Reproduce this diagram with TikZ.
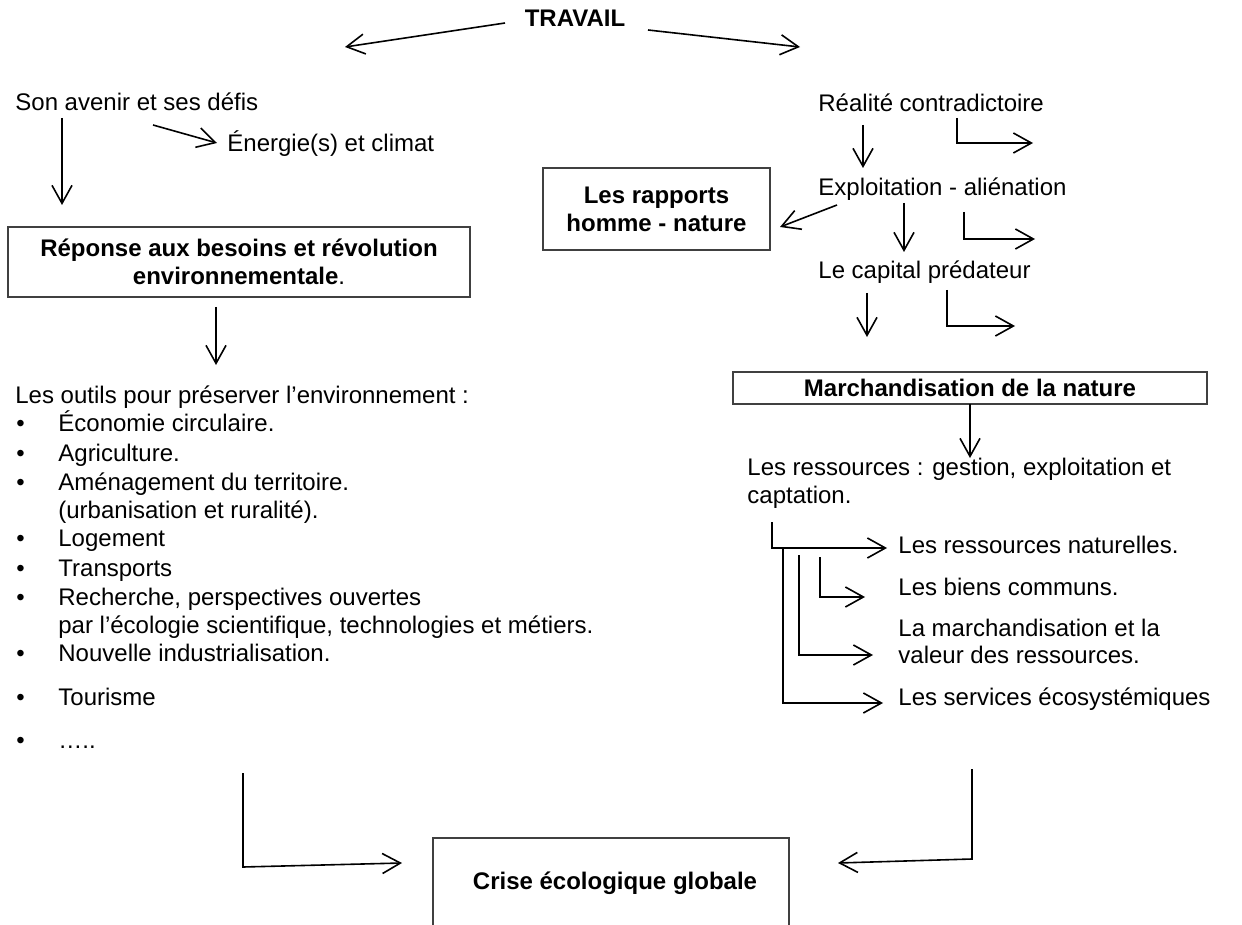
\documentclass[tikz,border=0pt]{standalone}
\usepackage{fontspec}
\setmainfont{Liberation Sans}
\usetikzlibrary{arrows.meta}
\begin{document}
\begin{tikzpicture}[x=0.5pt,y=-0.5pt,
  every node/.style={inner sep=0pt, font=\fontsize{12}{14}\selectfont},
  lbl/.style={anchor=west, text height=8.6pt, text depth=0pt},
  bold/.style={font=\fontsize{12}{14}\selectfont\bfseries},
  boxed/.style={draw=black!75, line width=0.7pt, align=center, font=\fontsize{12}{14}\selectfont\bfseries},
  boxline/.style={draw=black!75, line width=0.7pt},
  arr/.style={draw, line width=0.8pt, -{Straight Barb[length=9pt,width=10pt]}},
]
\clip (0,0) rectangle (1242,925);
\fill[white] (0,0) rectangle (1242,925);

% top
\node[bold] (travail) at (575,18) {TRAVAIL};
\coordinate (tl0) at (505,23); \coordinate (tl1) at (345,47);
\coordinate (tr0) at (648,30); \coordinate (tr1) at (800,47);
\draw[arr] (tl0) -- (tl1);
\draw[arr] (tr0) -- (tr1);

% left column
\node[lbl] (avenir) at (15,102) {Son avenir et ses défis};
\node[lbl] (energie) at (227,143) {Énergie(s) et climat};
\coordinate (a1) at (62,118); \coordinate (a2) at (62,205);
\coordinate (e1) at (153,125); \coordinate (e2) at (217,143);
\draw[arr] (a1) -- (a2);
\draw[arr] (e1) -- (e2);

\node[boxed, minimum width=231pt, minimum height=35pt] (reponse) at (239,262)
  {Réponse aux besoins et révolution\\environnementale{\mdseries.}};
\coordinate (r1) at (216,307); \coordinate (r2) at (216,365);
\draw[arr] (r1) -- (r2);

\node[lbl] (outils) at (15,395) {Les outils pour préserver l’environnement :};
\foreach \y/\t/\b [count=\i] in {
  423/Économie circulaire./1,
  453/Agriculture./1,
  482/Aménagement du territoire./1,
  510/(urbanisation et ruralité)./0,
  538/Logement/1,
  568/Transports/1,
  597/{Recherche, perspectives ouvertes}/1,
  625/{par l’écologie scientifique, technologies et métiers.}/0,
  653/Nouvelle industrialisation./1,
  697/Tourisme/1,
  740/…../1}{
  \node[lbl] (item\i) at (58,\y) {\t};
  \ifnum\b=1 \node[lbl] (bul\i) at (16,\y) {•};\fi
}

% right column
\node[lbl] (realite) at (818,103) {Réalité contradictoire};
\node[lbl] (exploit) at (818,187) {Exploitation - aliénation};
\node[lbl] (capital) at (818,270) {Le capital prédateur};

\coordinate (p1) at (957,118); \coordinate (p2) at (1033,143);
\coordinate (d1) at (863,125); \coordinate (d2) at (863,168);
\coordinate (g1) at (837,205); \coordinate (g2) at (780,227);
\coordinate (d3) at (904,203); \coordinate (d4) at (904,252);
\coordinate (p3) at (964,212); \coordinate (p4) at (1035,239);
\coordinate (d5) at (867,293); \coordinate (d6) at (867,337);
\coordinate (p5) at (947,290); \coordinate (p6) at (1015,326);
\draw[arr] (p1) |- (p2);
\draw[arr] (d1) -- (d2);
\draw[arr] (g1) -- (g2);
\draw[arr] (d3) -- (d4);
\draw[arr] (p3) |- (p4);
\draw[arr] (d5) -- (d6);
\draw[arr] (p5) |- (p6);

\node[boxed, minimum width=113.5pt, minimum height=41pt] (rapports) at (656.5,209)
  {Les rapports\\homme - nature};

\node[boxed, minimum width=237pt, minimum height=16pt] (marchand) at (970,388)
  {Marchandisation de la nature};
\coordinate (m1) at (970,404); \coordinate (m2) at (970,458);
\draw[arr] (m1) -- (m2);

\node[lbl] (ress1) at (747,467) {Les ressources : gestion, exploitation et};
\node[lbl] (ress2) at (747,495) {captation.};

\node[lbl] (nat) at (898,545) {Les ressources naturelles.};
\node[lbl] (biens) at (898,587) {Les biens communs.};
\node[lbl] (march1) at (898,628) {La marchandisation et la};
\node[lbl] (march2) at (898,655) {valeur des ressources.};
\node[lbl] (serv) at (898,697) {Les services écosystémiques};

\coordinate (b0) at (772,522); \coordinate (b1) at (887,548);
\draw[arr] (b0) |- (b1);
\coordinate (c0) at (783,548); \coordinate (c1) at (883,703);
\draw[arr] (c0) |- (c1);
\coordinate (f0) at (799,555); \coordinate (f1) at (873,655);
\draw[arr] (f0) |- (f1);
\coordinate (h0) at (820,557); \coordinate (h1) at (865,597);
\draw[arr] (h0) |- (h1);

% bottom
\draw[boxline] (433,940) -- (433,838) -- (789,838) -- (789,940);
\node[bold] (crise) at (615,883) {Crise écologique globale};
\coordinate (k0) at (243,773); \coordinate (k1) at (243,867); \coordinate (k2) at (402,863);
\draw[arr] (k0) -- (k1) -- (k2);
\coordinate (q0) at (972,769); \coordinate (q1) at (972,859); \coordinate (q2) at (838,863);
\draw[arr] (q0) -- (q1) -- (q2);
\end{tikzpicture}
\end{document}
